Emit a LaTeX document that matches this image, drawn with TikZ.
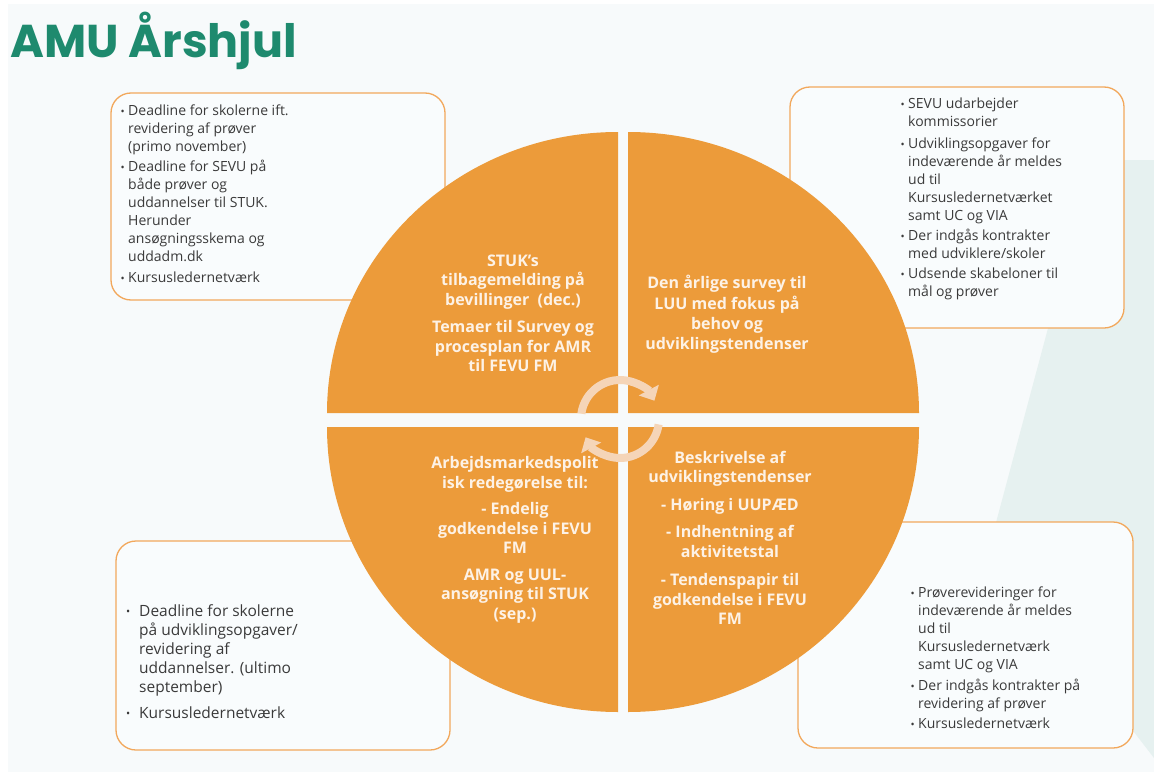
\documentclass[tikz,border=0pt]{standalone}
\usepackage{fontspec}
\setmainfont{Open Sans}
\newfontfamily\titlefont{Poppins}
\usetikzlibrary{arrows.meta}
\definecolor{bgc}{HTML}{F7FAFB}
\definecolor{tealc}{HTML}{E6F1F0}
\definecolor{orangec}{HTML}{EC9B3A}
\definecolor{boxc}{HTML}{F2A85C}
\definecolor{boxfill}{HTML}{F9FCFD}
\definecolor{txtc}{HTML}{3A3A3A}
\definecolor{quadtxt}{HTML}{FDF2E6}
\definecolor{titlec}{HTML}{1E8A6E}
\definecolor{arrc}{HTML}{F5D5B8}
\newcommand\bul{\makebox[11pt][c]{\raisebox{0.8pt}{\fontsize{11}{11}\selectfont\textbullet}}}
\newcommand\ind{\hspace*{11pt}}
\newcommand\bulw{\makebox[13pt][l]{\raisebox{0.8pt}{\fontsize{11}{11}\selectfont\textbullet}}}
\newcommand\indw{\hspace*{13pt}}
\begin{document}
\begin{tikzpicture}[x=1pt,y=1pt,
  infobox/.style={draw=boxc, line width=1.3pt, fill=boxfill, rounded corners=20pt, inner sep=0},
  listtext/.style={anchor=north west, inner sep=0, text=txtc, align=left, font=\fontsize{14}{18}\selectfont},
  quad/.style={fill=orangec},
  quadtext/.style={anchor=center, inner sep=0, text=quadtxt, align=center, font=\bfseries\fontsize{16}{19.5}\selectfont},
  arr/.style={draw=arrc, line width=8pt, -{Triangle[width=22pt,length=12pt]}}]
\useasboundingbox (0,0) rectangle (1154,-776);
\fill[white] (0,0) rectangle (1154,-776);
\fill[bgc] (8,-4) rectangle (1154,-772);
\fill[tealc] (1093,-160) -- (1154,-160) -- (1154,-758) -- (990,-545) -- cycle;

% title
\node[anchor=base west, inner sep=0, text=titlec, font=\titlefont\bfseries\fontsize{46}{50}\selectfont] (title) at (10,-58) {AMU Årshjul};

% boxes
\node[infobox, minimum width=334pt, minimum height=207pt] (boxtl) at (278,-196.5) {};
\node[infobox, minimum width=334pt, minimum height=241pt] (boxtr) at (957,-207.5) {};
\node[infobox, minimum width=334pt, minimum height=209pt] (boxbl) at (283,-645.5) {};
\node[infobox, minimum width=335pt, minimum height=226pt] (boxbr) at (965.5,-635) {};

% box texts
\node[listtext] (tltext) at (117,-105) {\bul Deadline for skolerne ift.\\ \ind revidering af prøver\\ \ind (primo november)\\[2pt]
\bul Deadline for SEVU på\\ \ind både prøver og\\ \ind uddannelser til STUK.\\ \ind Herunder\\ \ind ansøgningsskema og\\ \ind uddadm.dk\\[3pt]
\bul Kursusledernetværk};

\node[listtext] (trtext) at (897,-98) {\bul SEVU udarbejder\\ \ind kommissorier\\[4pt]
\bul Udviklingsopgaver for\\ \ind indeværende år meldes\\ \ind ud til\\ \ind Kursusledernetværket\\ \ind samt UC og VIA\\[2pt]
\bul Der indgås kontrakter\\ \ind med udviklere/skoler\\[2pt]
\bul Udsende skabeloner til\\ \ind mål og prøver};

\node[listtext, font=\fontsize{15.5}{19.2}\selectfont] (bltext) at (126,-604) {\bulw Deadline for skolerne\\ \indw på udviklingsopgaver/\\ \indw revidering af\\ \indw uddannelser. (ultimo\\ \indw september)\\[6pt]
\bulw Kursusledernetværk};

\node[listtext] (brtext) at (907,-587) {\bul Prøverevideringer for\\ \ind indeværende år meldes\\ \ind ud til\\ \ind Kursusledernetværk\\ \ind samt UC og VIA\\[3pt]
\bul Der indgås kontrakter på\\ \ind revidering af prøver\\[2pt]
\bul Kursusledernetværk};

% wheel quadrants
\fill[quad] (618,-413) -- (327,-413) arc[start angle=180, end angle=90, x radius=291, y radius=281] -- cycle;
\fill[quad] (628,-413) -- (628,-132) arc[start angle=90, end angle=0, x radius=291, y radius=281] -- cycle;
\fill[quad] (618,-427) -- (327,-427) arc[start angle=180, end angle=270, x radius=291, y radius=285] -- cycle;
\fill[quad] (628,-427) -- (919,-427) arc[start angle=0, end angle=-90, x radius=291, y radius=285] -- cycle;

% quadrant texts
\node[quadtext] (qtl) at (513,-313.5) {STUK’s\\ tilbagemelding på\\ bevillinger~~(dec.)\\[8pt] Temaer til Survey og\\ procesplan for AMR\\ til FEVU FM};
\node[quadtext, font=\bfseries\fontsize{16}{20.3}\selectfont] (qtr) at (727,-314.5) {Den årlige survey til\\ LUU med fokus på\\ behov og\\ udviklingstendenser};
\node[quadtext] (qbl) at (515,-540) {Arbejdsmarkedspolit\\ isk redegørelse til:\\[7pt] - Endelig\\ godkendelse i FEVU\\ FM\\[7pt] AMR og UUL-\\ ansøgning til STUK\\ (sep.)};
\node[quadtext] (qbr) at (730,-538) {Beskrivelse af\\ udviklingstendenser\\[8pt] - Høring i UUPÆD\\[8pt] - Indhentning af\\ aktivitetstal\\[9pt] - Tendenspapir til\\ godkendelse i FEVU\\ FM};

% cycle arrows
\coordinate (ringc) at (620,-419);
\draw[arr] ([shift={(172:39)}]ringc) arc[start angle=172, end angle=28, radius=39];
\draw[arr] ([shift={(-8:39)}]ringc) arc[start angle=-8, end angle=-152, radius=39];
\end{tikzpicture}
\end{document}
